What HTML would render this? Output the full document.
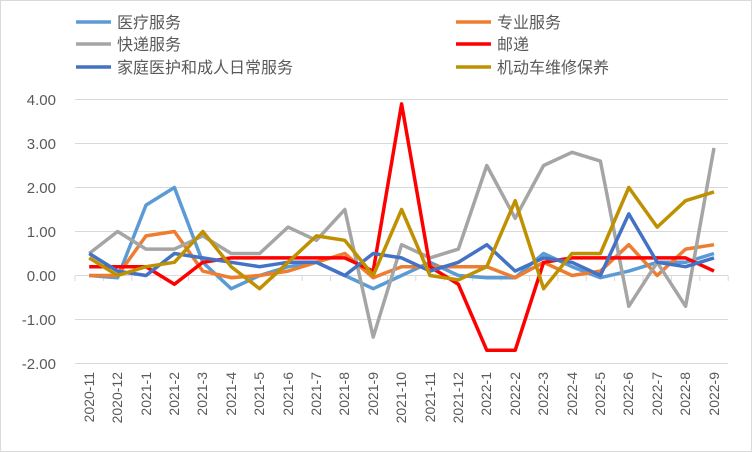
<!DOCTYPE html><html><head><meta charset="utf-8"><style>body{margin:0;background:#fff}svg{display:block;font-family:"Liberation Sans","Noto Sans CJK SC",sans-serif}</style></head><body>
<svg id="s" width="752" height="452" xmlns="http://www.w3.org/2000/svg">
<rect x="0.5" y="0.5" width="751" height="451" fill="#fff" stroke="#d9d9d9"/>
<g stroke="#d9d9d9" stroke-width="1">
<line x1="75" x2="728" y1="99.5" y2="99.5"/><line x1="75" x2="728" y1="143.5" y2="143.5"/><line x1="75" x2="728" y1="187.5" y2="187.5"/><line x1="75" x2="728" y1="231.5" y2="231.5"/><line x1="75" x2="728" y1="275.5" y2="275.5"/><line x1="75" x2="728" y1="319.5" y2="319.5"/><line x1="75" x2="728" y1="363.5" y2="363.5"/>
</g>
<g id="ticks" stroke="#d9d9d9"></g>
<g font-size="15" fill="#595959" text-anchor="end">
<text x="56" y="105">4.00</text><text x="56" y="149">3.00</text><text x="56" y="193">2.00</text><text x="56" y="237">1.00</text><text x="56" y="281">0.00</text><text x="56" y="325">-1.00</text><text x="56" y="369">-2.00</text>
</g>
<g font-size="14" fill="#595959" text-anchor="end">
<text transform="translate(94,372) rotate(-90)">2020-11</text>
<text transform="translate(122,372) rotate(-90)">2020-12</text>
<text transform="translate(151,372) rotate(-90)">2021-1</text>
<text transform="translate(179,372) rotate(-90)">2021-2</text>
<text transform="translate(207,372) rotate(-90)">2021-3</text>
<text transform="translate(236,372) rotate(-90)">2021-4</text>
<text transform="translate(264,372) rotate(-90)">2021-5</text>
<text transform="translate(293,372) rotate(-90)">2021-6</text>
<text transform="translate(321,372) rotate(-90)">2021-7</text>
<text transform="translate(349,372) rotate(-90)">2021-8</text>
<text transform="translate(378,372) rotate(-90)">2021-9</text>
<text transform="translate(406,372) rotate(-90)">2021-10</text>
<text transform="translate(435,372) rotate(-90)">2021-11</text>
<text transform="translate(463,372) rotate(-90)">2021-12</text>
<text transform="translate(491,372) rotate(-90)">2022-1</text>
<text transform="translate(520,372) rotate(-90)">2022-2</text>
<text transform="translate(548,372) rotate(-90)">2022-3</text>
<text transform="translate(577,372) rotate(-90)">2022-4</text>
<text transform="translate(605,372) rotate(-90)">2022-5</text>
<text transform="translate(633,372) rotate(-90)">2022-6</text>
<text transform="translate(662,372) rotate(-90)">2022-7</text>
<text transform="translate(690,372) rotate(-90)">2022-8</text>
<text transform="translate(719,372) rotate(-90)">2022-9</text>
</g>
<g id="lines" fill="none" stroke-width="3.5" stroke-linejoin="round"></g>
<g stroke-width="3.5">
<line x1="76" x2="111" y1="22" y2="22" stroke="#5b9bd5"/><line x1="456" x2="491" y1="22" y2="22" stroke="#ed7d31"/>
<line x1="76" x2="111" y1="44" y2="44" stroke="#a5a5a5"/><line x1="456" x2="491" y1="44" y2="44" stroke="#ff0000"/>
<line x1="76" x2="111" y1="67" y2="67" stroke="#4472c4"/><line x1="456" x2="491" y1="67" y2="67" stroke="#bf9000"/>
</g>
<g font-size="16" fill="#595959">
<text x="117" y="28">医疗服务</text><text x="497" y="28">专业服务</text>
<text x="117" y="50">快递服务</text><text x="497" y="50">邮递</text>
<text x="117" y="73">家庭医护和成人日常服务</text><text x="497" y="73">机动车维修保养</text>
</g>
</svg>
<script>
var d=[
["#5b9bd5",[0,-0.05,1.6,2.0,0.3,-0.3,0,0.2,0.3,0,-0.3,0,0.3,0,-0.05,-0.05,0.5,0.2,-0.05,0.1,0.3,0.3,0.5]],
["#ed7d31",[0,0,0.9,1.0,0.1,-0.05,0,0.1,0.3,0.5,-0.05,0.2,0.2,0.2,0.2,-0.05,0.3,0,0.1,0.7,0,0.6,0.7]],
["#a5a5a5",[0.5,1.0,0.6,0.6,0.9,0.5,0.5,1.1,0.8,1.5,-1.4,0.7,0.4,0.6,2.5,1.3,2.5,2.8,2.6,-0.7,0.3,-0.7,2.9]],
["#ff0000",[0.2,0.2,0.2,-0.2,0.3,0.4,0.4,0.4,0.4,0.4,0.1,3.9,0.2,-0.2,-1.7,-1.7,0.3,0.4,0.4,0.4,0.4,0.4,0.1]],
["#4472c4",[0.5,0.1,0,0.5,0.4,0.3,0.2,0.3,0.3,0,0.5,0.4,0.1,0.3,0.7,0.1,0.4,0.3,0,1.4,0.3,0.2,0.4]],
["#bf9000",[0.4,0,0.2,0.3,1.0,0.2,-0.3,0.3,0.9,0.8,0,1.5,0,-0.1,0.2,1.7,-0.3,0.5,0.5,2.0,1.1,1.7,1.9]]];
var ns="http://www.w3.org/2000/svg",g=document.getElementById("lines"),t=document.getElementById("ticks");
for(var i=0;i<=23;i++){var l=document.createElementNS(ns,"line");var x=75+28.4*i;l.setAttribute("x1",x);l.setAttribute("x2",x);l.setAttribute("y1",275.5);l.setAttribute("y2",281);t.appendChild(l);}
d.forEach(function(s){var p=document.createElementNS(ns,"polyline");p.setAttribute("stroke",s[0]);p.setAttribute("points",s[1].map(function(v,i){return (89.2+28.4*i)+","+(275.5-44*v)}).join(" "));g.appendChild(p);});
</script>
</body></html>
